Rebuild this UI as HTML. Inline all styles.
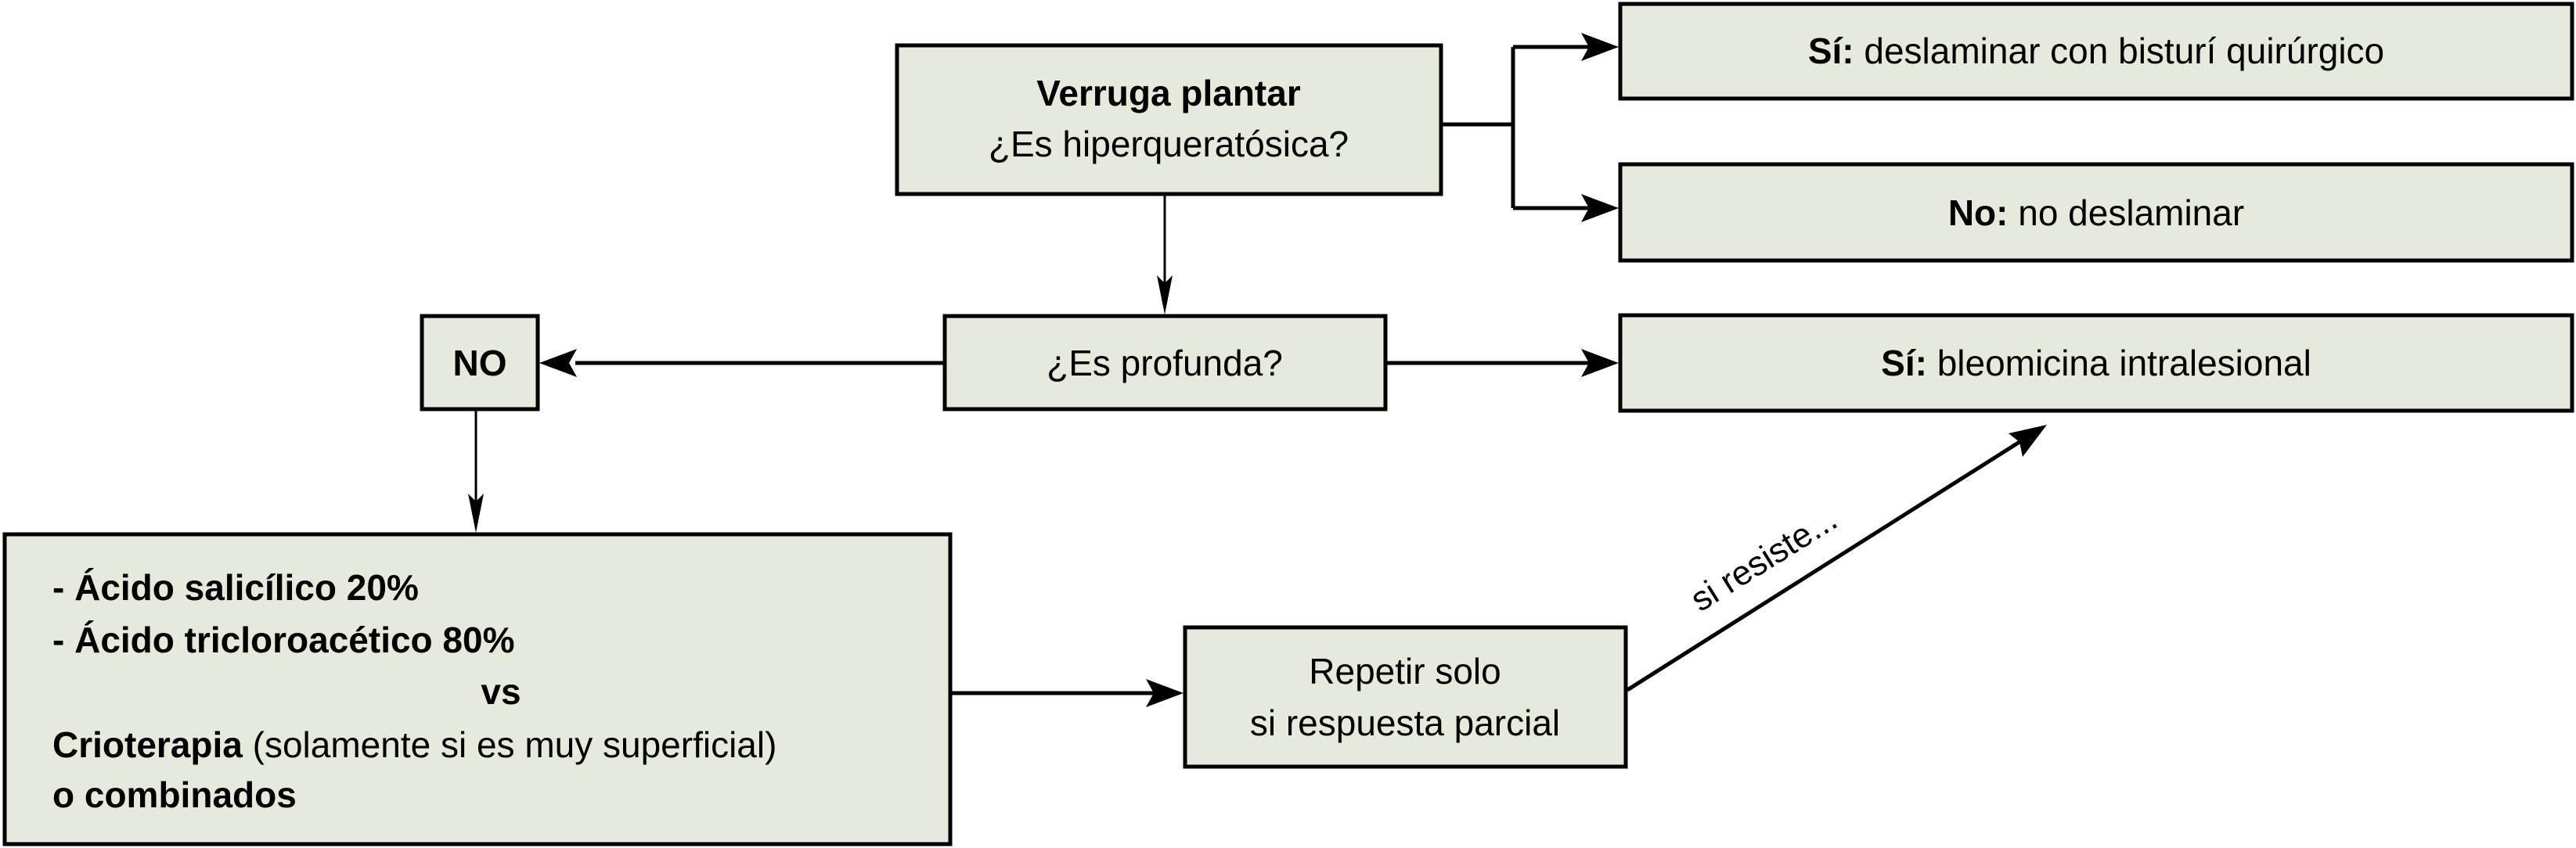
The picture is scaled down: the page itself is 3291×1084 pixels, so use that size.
<!DOCTYPE html>
<html><head><meta charset="utf-8"><style>
html,body{margin:0;padding:0;background:#fff;}
svg{display:block;}
text{font-family:"Liberation Sans",Arial,sans-serif;fill:#000;}
</style></head><body>
<svg width="3291" height="1084" viewBox="0 0 3291 1084" xmlns="http://www.w3.org/2000/svg">
<defs>
<marker id="a" markerWidth="10" markerHeight="10" refX="9" refY="5" orient="auto" markerUnits="userSpaceOnUse" viewBox="0 0 10 10">
</marker>
</defs>
<g fill="#e5eadc" stroke="#000" stroke-width="5">
<rect x="1146" y="58" width="695" height="190"/>
<rect x="2070" y="5" width="1216" height="121"/>
<rect x="2070" y="210" width="1216" height="123"/>
<rect x="2070" y="403" width="1216" height="122"/>
<rect x="1207" y="404" width="563" height="119"/>
<rect x="539" y="404" width="148" height="119"/>
<rect x="6" y="683" width="1208" height="396"/>
<rect x="1514" y="802" width="563" height="178"/>
</g>
<g stroke="#000" stroke-width="5" fill="none">
<path d="M1841 159 H1933 M1933 60 V266 M1933 60 H2030 M1933 266 H2030"/>
<path d="M1770 464 H2030"/>
<path d="M1207 464 H735"/>
<path d="M1214 886 H1475"/>
<path d="M2079 882 L2580 565"/>
</g>
<g stroke="#000" stroke-width="3" fill="none">
<path d="M1488 248 V370"/>
<path d="M608 523 V650"/>
</g>
<g fill="#000">
<polygon points="2068,60 2020,42 2030,60 2020,78"/>
<polygon points="2068,266 2020,248 2030,266 2020,284"/>
<polygon points="2068,464 2020,446 2030,464 2020,482"/>
<polygon points="689,464 737,446 727,464 737,482"/>
<polygon points="1512,886 1464,868 1474,886 1464,904"/>
<polygon points="1488,402 1478,352 1488,362 1498,352"/>
<polygon points="608,681 598,631 608,641 618,631"/>
<polygon points="2615,543 2584,584 2580,565 2566,554"/>
</g>
<g font-size="46" text-anchor="middle">
<text x="1493" y="135" font-weight="bold">Verruga plantar</text>
<text x="1493" y="200">¿Es hiperqueratósica?</text>
<text x="2678" y="81"><tspan font-weight="bold">Sí:</tspan> deslaminar con bisturí quirúrgico</text>
<text x="2678" y="288"><tspan font-weight="bold">No:</tspan> no deslaminar</text>
<text x="2678" y="480"><tspan font-weight="bold">Sí:</tspan> bleomicina intralesional</text>
<text x="1488" y="480">¿Es profunda?</text>
<text x="613" y="480" font-weight="bold">NO</text>
<text x="1795" y="874">Repetir solo</text>
<text x="1795" y="940">si respuesta parcial</text>
<text x="640" y="900" font-weight="bold">vs</text>
</g>
<g font-size="46">
<text x="67" y="767" font-weight="bold">- Ácido salicílico 20%</text>
<text x="67" y="834" font-weight="bold">- Ácido tricloroacético 80%</text>
<text x="67" y="968"><tspan font-weight="bold">Crioterapia</tspan> (solamente si es muy superficial)</text>
<text x="67" y="1032" font-weight="bold">o combinados</text>
</g>
<text x="2172" y="783" font-size="44" transform="rotate(-32 2172 783)">si resiste...</text>
</svg>
</body></html>
